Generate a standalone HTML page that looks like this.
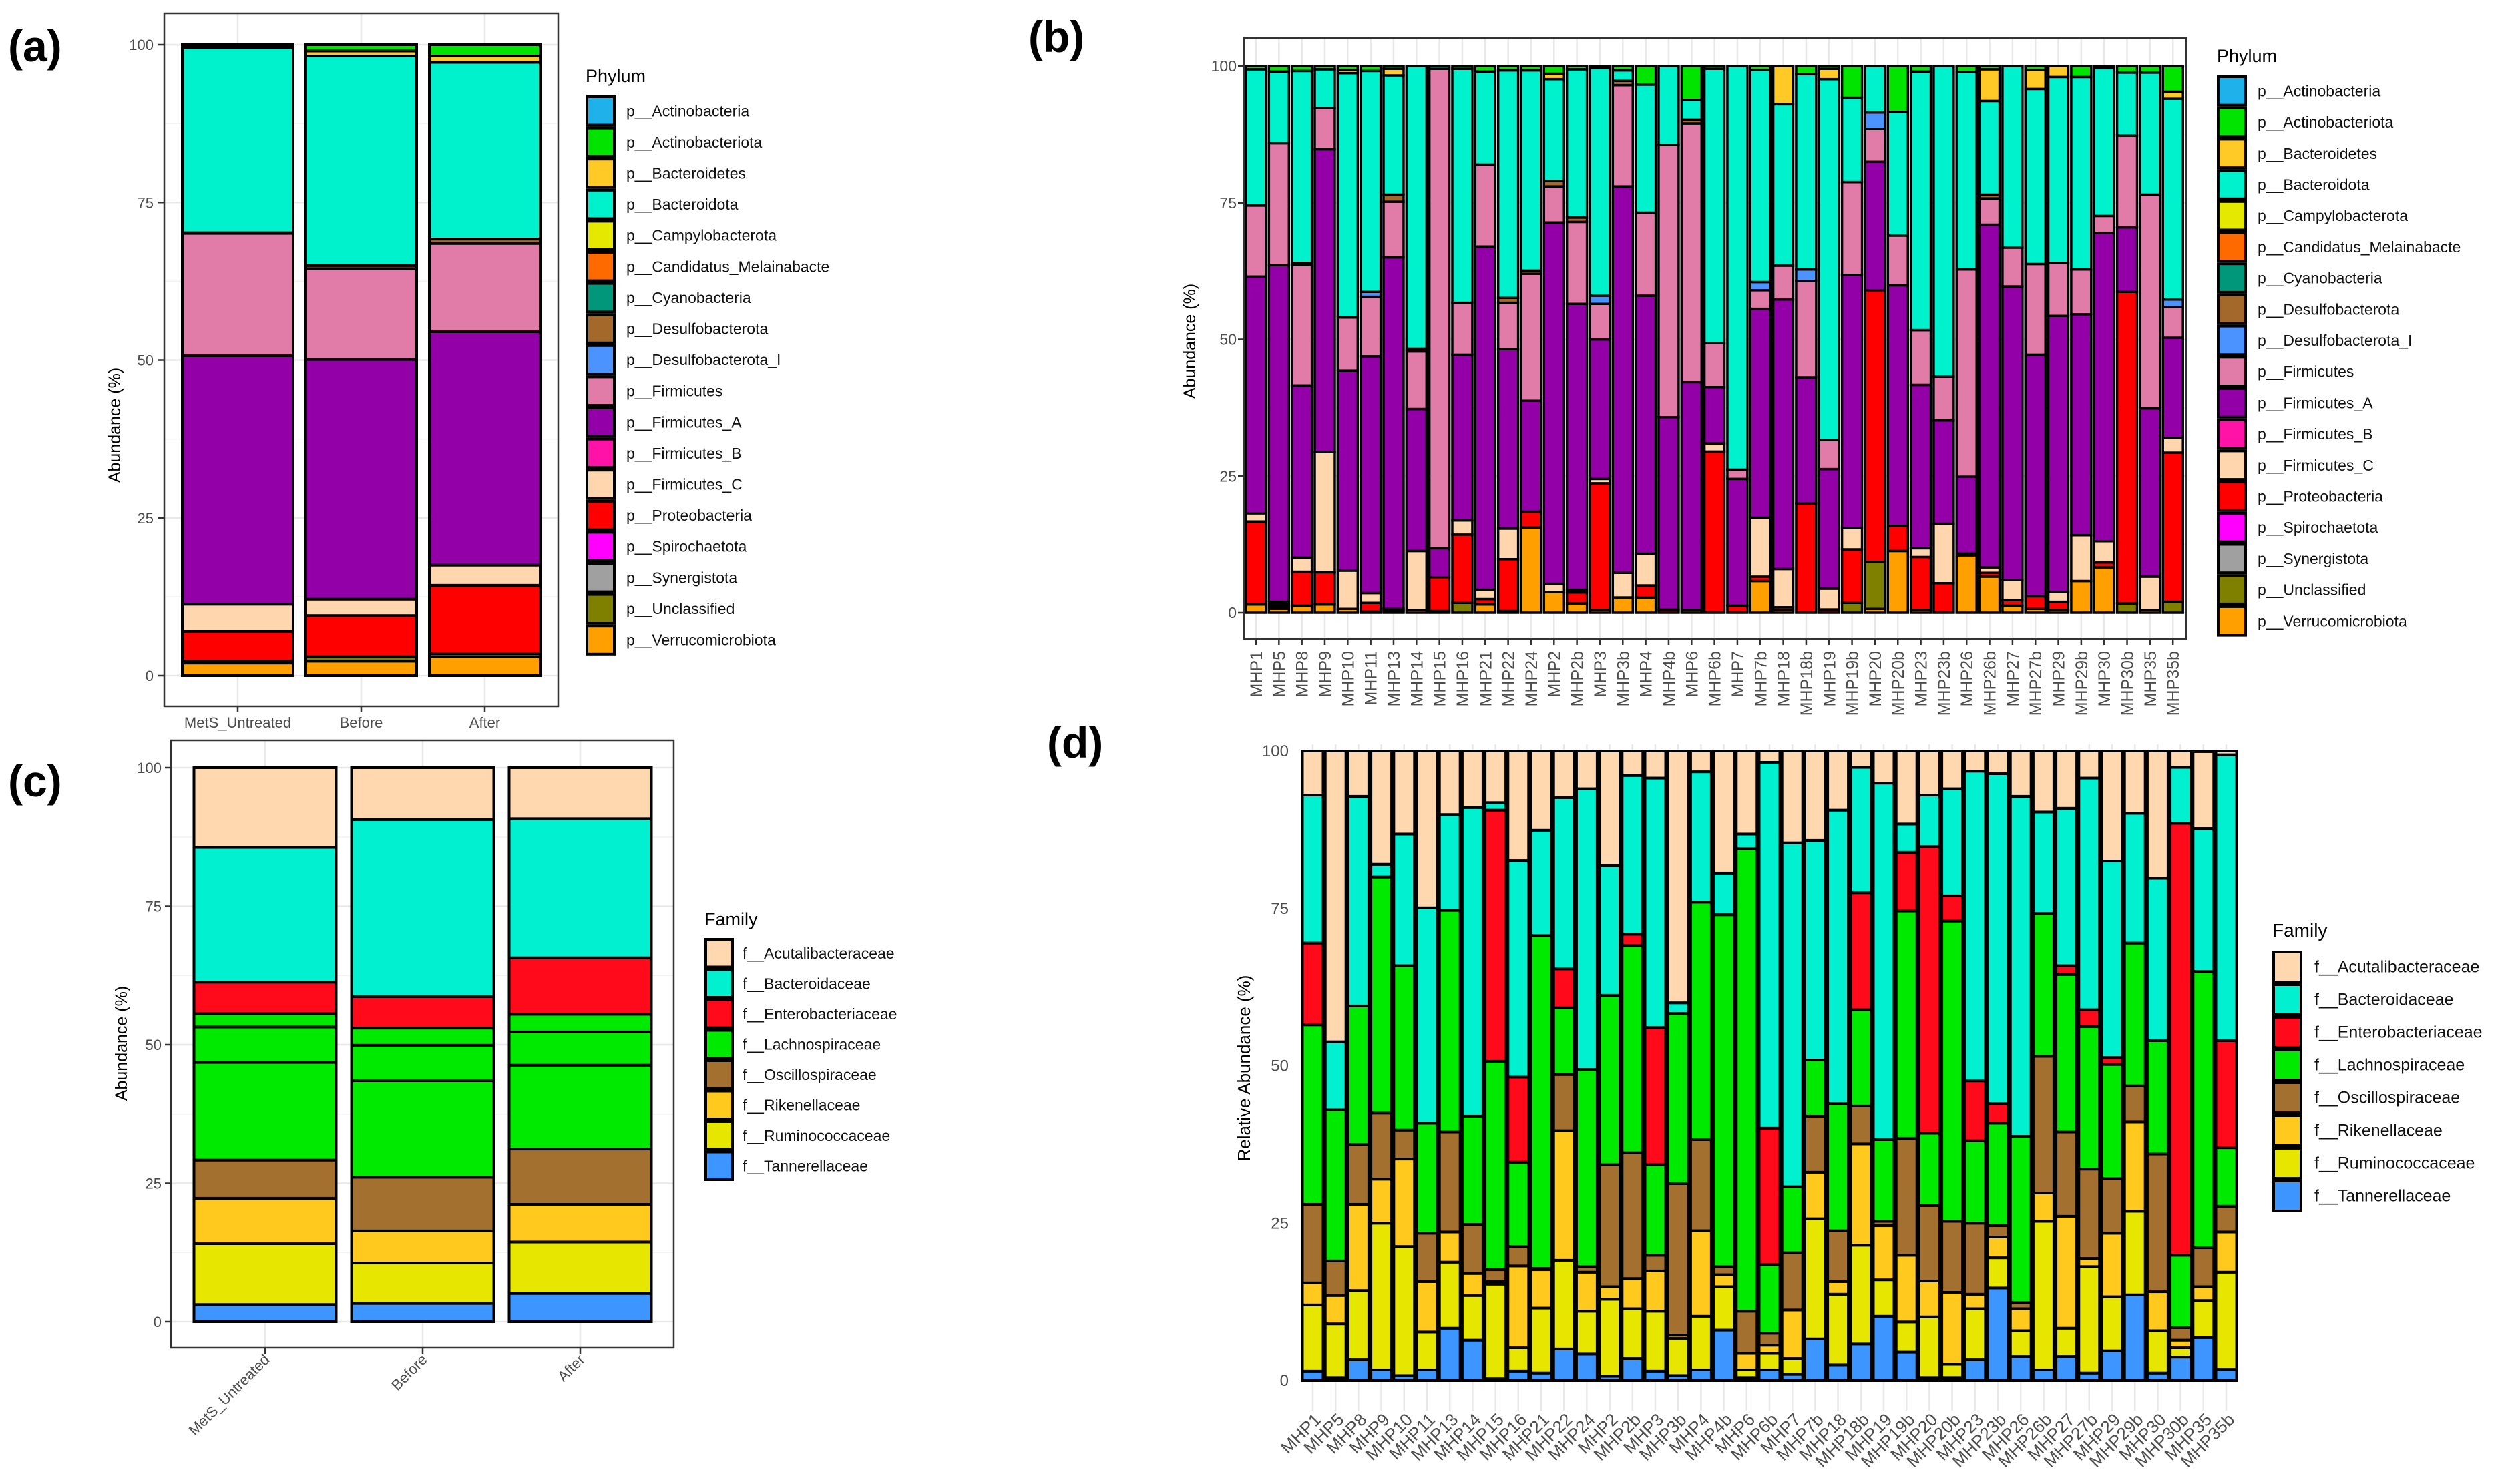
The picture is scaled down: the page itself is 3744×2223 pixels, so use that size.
<!DOCTYPE html>
<html><head><meta charset="utf-8"><style>
html,body{margin:0;padding:0;background:#fff;}
svg{display:block;font-family:"Liberation Sans",Arial,sans-serif;}
</style></head><body>
<svg id="fig" width="3744" height="2223" viewBox="0 0 3744 2223" xmlns="http://www.w3.org/2000/svg">
<rect x="0" y="0" width="3744" height="2223" fill="#fff"/>
</svg>
<script>
// ---------- Panel (a) data: phylum mean abundance by group ----------
const aGroups = ["MetS_Untreated","Before","After"];
const aVerrucomicrobiota = [2.0, 2.3, 3.0];
const aUnclassified = [0.3, 0.7, 0.5];
const aProteobacteria = [4.7, 6.5, 10.8];
const aFirmicutesC = [4.3, 2.6, 3.2];
const aFirmicutesA = [39.4, 38.0, 37.0];
const aFirmicutes = [19.4, 14.4, 14.0];
const aDesulfobacterota = [0.1, 0.5, 0.7];
const aBacteroidota = [29.3, 33.2, 28.0];
const aBacteroidetes = [0.2, 0.8, 1.0];
const aActinobacteriota = [0.3, 1.0, 1.8];

// ---------- Panel (b) data: phylum abundance by sample ----------
const samples = ["MHP1","MHP5","MHP8","MHP9","MHP10","MHP11","MHP13","MHP14","MHP15","MHP16","MHP21","MHP22","MHP24","MHP2","MHP2b","MHP3","MHP3b","MHP4","MHP4b","MHP6","MHP6b","MHP7","MHP7b","MHP18","MHP18b","MHP19","MHP19b","MHP20","MHP20b","MHP23","MHP23b","MHP26","MHP26b","MHP27","MHP27b","MHP29","MHP29b","MHP30","MHP30b","MHP35","MHP35b"];
const bVerrucomicrobiota = [1.5,0.7,1.3,1.5,0.7,0.2,0.3,0.5,0.3,0,1.5,0.3,15.6,3.8,1.7,0.5,2.8,2.8,0,0,0,0,5.8,0.5,0,0,0,0.7,11.3,0.5,0,10.5,6.6,1.3,0.7,0.5,5.8,8.3,0,0.5,0];
const bUnclassified = [0,0.4,0,0,0,0,0,0,0,1.8,0,0,0,0,0,0,0,0,0,0.5,0,0,0,0,0,0,1.8,8.6,0,0,0,0,0,0,0,0,0,0,1.7,0,2];
const bProteobacteria = [15.2,0.4,6.2,5.9,0,1.6,0.4,0,6.2,12.5,1,9.5,2.9,0,2,23.2,0,2.2,0.6,0,29.5,1.3,0.8,0.5,20,0.6,9.8,49.7,4.6,9.7,5.4,0,0.7,1,2.3,1.5,0,0.9,57,0,27.3];
const bFirmicutesC = [1.5,0.5,2.6,22,7,1.8,0,10.8,0,2.6,1.7,5.6,0,1.5,0.5,0.8,4.5,5.8,0,0,1.5,0,10.8,7,0,3.8,3.9,0,0,1.6,10.9,0.4,1,3.7,0,1.8,8.4,3.9,0,6.1,2.7];
const bFirmicutesA = [43.3,61.6,31.5,55.4,36.6,43.3,64.3,26,5.3,30.3,62.8,32.8,20.3,66.1,52.3,25.5,70.7,47.2,35.2,41.7,10.3,23.2,38.2,49.3,23.1,21.9,46.3,23.5,44,29.9,18.9,14,62.7,53.7,44.2,50.5,40.4,56.4,11.8,30.8,18.3];
const bFirmicutes = [13,22.3,22,7.5,9.7,10.9,10.2,10.5,87.7,9.5,15,8.5,23.2,6.6,15,6.5,18.5,15.2,49.8,47.3,8,1.7,3.4,6.2,17.6,5.3,17,6,9.1,10,8,37.9,4.8,7.1,16.6,9.7,8.2,3.1,16.8,39.1,5.6];
const bDesulfobacterota = [0,0,0.4,0,0,0,1.3,0.5,0,0,0,0.9,0.6,1,0.8,0,0.8,0,0,0.7,0,0,0,0,0,0,0,0,0,0,0,0,0.7,0,0,0,0,0,0,0,0];
const bDesulfobacterotaI = [0,0,0,0,0,0.9,0,0,0,0,0,0,0,0,0,1.5,0,0,0,0,0,0,1.5,0,2.1,0,0,3,0,0,0,0,0,0,0,0,0,0,0,0,1.4];
const bBacteroidota = [24.9,13.1,35.1,7.1,44.7,40.4,21.8,51.7,0.5,42.8,17,41.6,36.6,18.6,27.1,41.6,1.9,23.4,14.4,3.6,50.2,73.8,38.8,29.5,35.7,66,15.4,8.5,22.6,47.3,56.8,36.1,17.1,33.2,32,34,35.2,27,11.5,22.3,36.7];
const bBacteroidetes = [0,0,0,0,0.6,0,1.2,0,0,0,0,0,0,1,0,0,0,0,0,0,0,0,0,7,0,1.9,0,0,0,0,0,0,5.8,0,3.5,2,0,0,0,0,1.3];
const bActinobacteriota = [0.6,1,0.9,0.6,0.7,0.9,0.5,0,0,0.5,1,0.8,0.8,1.4,0.6,0.4,0.8,3.4,0,6.2,0.5,0,0.7,0,1.5,0.5,5.8,0,8.4,1,0,1.1,0.6,0,0.7,0,2,0.4,1.2,1.2,4.7];

// ---------- Panel (c) data: family mean abundance by group ----------
const cTannerellaceae = [3.1, 3.3, 5.1];
const cRuminococcaceae = [11.0, 7.3, 9.3];
const cRikenellaceae = [8.2, 5.8, 6.8];
const cOscillospiraceae = [6.9, 9.7, 10.0];
const cLachnoGenus1 = [17.6, 17.4, 15.1];
const cLachnoGenus2 = [6.4, 6.4, 6.0];
const cLachnoGenus3 = [2.4, 3.1, 3.2];
const cEnterobacteriaceae = [5.7, 5.7, 10.2];
const cBacteroidaceae = [24.3, 31.9, 25.1];
const cAcutalibacteraceae = [14.4, 9.4, 9.2];

// ---------- Panel (d) data: family relative abundance by sample ----------
const dTannerellaceae = [1.5,0.5,3.3,1.7,0.8,1.7,8.3,6.4,0.3,1.5,1.2,5,4.2,0.7,3.5,1.5,0.8,1.7,8,0.5,1.7,1,6.6,2.5,5.8,10.2,4.5,0.5,0.5,3.3,14.7,3.8,1.7,3.8,1.2,4.7,13.6,1.2,3.7,6.8,1.8];
const dRuminococcaceae = [10.5,8.5,11,23.3,20.5,6,10.5,7.1,15,3.7,10.3,14.1,6.8,12.2,7.9,9.5,5.9,8.5,6.9,1.2,2.6,2.5,19.1,11.2,15.7,5.8,4.8,9.6,2.1,8.1,4.8,4.1,23.6,4.5,16.9,8.6,13.3,6.7,1.5,5.9,15.4];
const dRikenellaceae = [3.5,4.5,13.7,7,13.9,8,4.8,3.5,0.4,13,6.1,20.6,6.2,2,4.8,6.4,0.5,13.6,1.9,2.6,1.3,7.7,7.4,2,16.1,8.6,10.6,5.7,11.4,2.3,3.3,3.5,4.5,17.8,1.3,10.1,14.2,6.2,1.2,2.2,6.4];
const dOscillospiraceae = [12.5,5.5,9.5,10.5,4.6,7.7,15.9,7.8,1.9,3.1,0.2,8.9,0.9,19.4,20,2.5,24.1,14.5,1.3,6.7,1.9,9.1,8.9,8.1,6,0.7,18.6,12,11.3,11.3,1.8,1,21.7,13.4,14.2,8.7,5.7,21.9,2,6.2,4.1];
const dLachnospiraceae = [28.5,24,22,37.5,26.1,17.5,35.2,17.2,33.1,13.4,52.9,10.6,31.3,26.9,32.9,14.4,27,37.7,55.9,73.5,10.9,10.5,8.9,20.2,15.3,13,36.1,11.5,47.7,13.1,16.3,26.4,22.7,25,22.6,18.1,22.7,18,11.5,43.9,9.3];
const dEnterobacteriaceae = [13,0,0,0,0,0,0,0,39.9,13.5,0,6.2,0,0,1.8,21.8,0,0,0,0,21.7,0,0,0,18.6,0,9.3,45.5,4,9.5,3.1,0,0,1.4,2.7,1.1,0,0,68.6,0,17];
const dBacteroidaceae = [23.5,10.8,33.3,2,20.9,34.2,15.2,49,1.2,34.4,16.7,27.2,44.6,20.6,25.2,39.6,1.7,20.7,6.6,2.3,58.1,54.6,34.9,46.6,19.9,56.6,4.5,8.2,17,49.2,52.4,54,16.1,25,36.8,31.2,20.6,25.8,8.9,22.7,45.4];
const dAcutalibacteraceae = [7,46.2,7.2,18,13.2,24.9,10.1,9,8.2,17.4,12.6,7.4,6,18.2,3.9,4.3,40,3.3,19.4,13.2,1.8,14.6,14.2,9.4,2.6,5.1,11.6,7,6,3.2,3.6,7.2,9.7,9.1,4.3,17.5,9.9,20.2,2.6,12.2,0.6];

const yTicks = [0,25,50,75,100];
const phylumLegend = ["p__Actinobacteria","p__Actinobacteriota","p__Bacteroidetes","p__Bacteroidota","p__Campylobacterota","p__Candidatus_Melainabacte","p__Cyanobacteria","p__Desulfobacterota","p__Desulfobacterota_I","p__Firmicutes","p__Firmicutes_A","p__Firmicutes_B","p__Firmicutes_C","p__Proteobacteria","p__Spirochaetota","p__Synergistota","p__Unclassified","p__Verrucomicrobiota"];
const familyLegend = ["f__Acutalibacteraceae","f__Bacteroidaceae","f__Enterobacteriaceae","f__Lachnospiraceae","f__Oscillospiraceae","f__Rikenellaceae","f__Ruminococcaceae","f__Tannerellaceae"];

// ---------- styles (colors) ----------
const PC = {Actinobacteria:"#1fb2ea",Actinobacteriota:"#00e400",Bacteroidetes:"#ffc926",Bacteroidota:"#00f2cd",Campylobacterota:"#e5e800",Candidatus:"#ff6a00",Cyanobacteria:"#00977a",Desulfobacterota:"#a3692a",DesulfobacterotaI:"#4b93ff",Firmicutes:"#e17ba8",FirmicutesA:"#9400a8",FirmicutesB:"#ff12a6",FirmicutesC:"#ffd6ad",Proteobacteria:"#ff0000",Spirochaetota:"#ff00ff",Synergistota:"#a0a0a0",Unclassified:"#808000",Verrucomicrobiota:"#ffa000"};
const phylumLegendColors = [PC.Actinobacteria,PC.Actinobacteriota,PC.Bacteroidetes,PC.Bacteroidota,PC.Campylobacterota,PC.Candidatus,PC.Cyanobacteria,PC.Desulfobacterota,PC.DesulfobacterotaI,PC.Firmicutes,PC.FirmicutesA,PC.FirmicutesB,PC.FirmicutesC,PC.Proteobacteria,PC.Spirochaetota,PC.Synergistota,PC.Unclassified,PC.Verrucomicrobiota];
const FC = {Acut:"#ffd8b0",Bact:"#00f0d0",Entero:"#ff0a1a",Lachno:"#00ea00",Oscill:"#a3702f",Riken:"#ffc91d",Rumino:"#e6e600",Tann:"#3d95ff"};
const familyLegendColors = [FC.Acut,FC.Bact,FC.Entero,FC.Lachno,FC.Oscill,FC.Riken,FC.Rumino,FC.Tann];

const NS = "http://www.w3.org/2000/svg";
const svg = document.getElementById("fig");
function mk(tag, attrs, parent){
  const e = document.createElementNS(NS, tag);
  for (const k in attrs) e.setAttribute(k, attrs[k]);
  (parent||svg).appendChild(e);
  return e;
}
function txt(s, attrs, parent){ const e = mk("text", attrs, parent); e.textContent = s; return e; }

function drawPanel(p){
  const g = mk("g", {});
  
  
  const y = v => p.y0 - v * (p.y0 - p.y100) / 100;
  const xc = i => p.x0 + i * p.step;
  // frame / grid
  if (p.frame) {
    mk("rect", {x:p.frame[0], y:p.frame[1], width:p.frame[2]-p.frame[0], height:p.frame[3]-p.frame[1], fill:"#fff"}, g);
  }
  const gx0 = p.frame ? p.frame[0] : xc(0) - p.step/2 - 10;
  const gx1 = p.frame ? p.frame[2] : xc(p.cats.length-1) + p.step/2 + 10;
  if (p.hgrid) {
    for (let v = 12.5; v < 100; v += 25) mk("line", {x1:gx0, x2:gx1, y1:y(v), y2:y(v), stroke:"#f2f2f2", "stroke-width":1.5}, g);
    yTicks.forEach(v => mk("line", {x1:gx0, x2:gx1, y1:y(v), y2:y(v), stroke:"#e8e8e8", "stroke-width":2.5}, g));
  }
  const vTop = p.frame ? p.frame[1] : y(100) - 10;
  const vBot = p.frame ? p.frame[3] : p.vgridBottom;
  p.cats.forEach((c, i) => mk("line", {x1:xc(i), x2:xc(i), y1:vTop, y2:vBot, stroke:"#e8e8e8", "stroke-width":2.5}, g));
  if (p.frame) mk("rect", {x:p.frame[0], y:p.frame[1], width:p.frame[2]-p.frame[0], height:p.frame[3]-p.frame[1], fill:"none", stroke:"#333", "stroke-width":2.5}, g);
  // bars
  p.cats.forEach((c, i) => {
    let cum = 0;
    p.series.forEach(s => {
      const v = s.vals[i];
      if (v <= 0) return;
      const r = mk("rect", {x:xc(i)-p.bw/2, y:y(cum+v), width:p.bw, height:y(cum)-y(cum+v), fill:s.color, stroke:"#000", "stroke-width":p.sw}, g);
      
      
      cum += v;
    });
  });
  // y ticks
  yTicks.forEach(v => {
    if (p.frame) mk("line", {x1:p.frame[0]-9, x2:p.frame[0], y1:y(v), y2:y(v), stroke:"#333", "stroke-width":2.5}, g);
    const t = txt(String(v), {x:p.ytx, y:y(v)+8, "text-anchor":"end", "font-size":p.tickFs, fill:"#4d4d4d"}, g);
    
    
  });
  // x labels
  p.cats.forEach((c, i) => {
    if (p.frame) mk("line", {x1:xc(i), x2:xc(i), y1:p.frame[3], y2:p.frame[3]+9, stroke:"#333", "stroke-width":2.5}, g);
    let t;
    if (p.xrot === 0) t = txt(c, {x:xc(i), y:p.xly, "text-anchor":"middle", "font-size":p.tickFs, fill:"#4d4d4d"}, g);
    else {
      const ax = xc(i) + (p.xdx||0);
      t = txt(c, {x:ax, y:p.xly, "text-anchor":"end", "font-size":p.xFs||p.tickFs, fill:"#4d4d4d", transform:`rotate(${p.xrot} ${ax} ${p.xly})`}, g);
    }
    
    
  });
  // y title
  const yt = txt(p.ytitle, {x:p.ytX, y:p.ytY, "text-anchor":"middle", "font-size":p.ytFs, fill:"#000", transform:`rotate(-90 ${p.ytX} ${p.ytY})`}, g);
  
  
  // panel tag
  const pl = txt(p.tag, {x:p.tagX, y:p.tagY, "font-size":66, "font-weight":"bold", fill:"#000"}, g);
  
  
  // legend
  const L = p.legend;
  const lt = txt(L.title, {x:L.x, y:L.ty, "font-size":L.tfs, fill:"#000"}, g);
  
  
  L.labels.forEach((lab, k) => {
    const top = L.top + k * L.step;
    const kr = mk("rect", {x:L.x+2, y:top+2, width:L.w-4, height:L.step-4, fill:L.colors[k], stroke:"#000", "stroke-width":4}, g);
    
    
    const lx = txt(lab, {x:L.lx, y:top + L.step/2 + 8, "font-size":L.fs, fill:"#111"}, g);
    
    
  });
}

// Panel a
drawPanel({name:"panel-a-phylum-groups", tag:"(a)", tagX:12, tagY:92, cats:aGroups, x0:356, step:185, bw:166, sw:4,
  y0:1012, y100:67, frame:[246,20,836,1058], hgrid:true, ytx:230, tickFs:22, xrot:0, xly:1090,
  ytitle:"Abundance (%)", ytX:180, ytY:637, ytFs:25,
  series:[
    {key:"verrucomicrobiota", color:PC.Verrucomicrobiota, vals:aVerrucomicrobiota},
    {key:"unclassified", color:PC.Unclassified, vals:aUnclassified},
    {key:"proteobacteria", color:PC.Proteobacteria, vals:aProteobacteria},
    {key:"firmicutes-c", color:PC.FirmicutesC, vals:aFirmicutesC},
    {key:"firmicutes-a", color:PC.FirmicutesA, vals:aFirmicutesA},
    {key:"firmicutes", color:PC.Firmicutes, vals:aFirmicutes},
    {key:"desulfobacterota", color:PC.Desulfobacterota, vals:aDesulfobacterota},
    {key:"bacteroidota", color:PC.Bacteroidota, vals:aBacteroidota},
    {key:"bacteroidetes", color:PC.Bacteroidetes, vals:aBacteroidetes},
    {key:"actinobacteriota", color:PC.Actinobacteriota, vals:aActinobacteriota}],
  legend:{title:"Phylum", x:877, ty:123, tfs:27, top:143, step:46.6, w:45, lx:938, fs:23, labels:phylumLegend, colors:phylumLegendColors}});

// Panel b
drawPanel({name:"panel-b-phylum-samples", tag:"(b)", tagX:1540, tagY:78, cats:samples, x0:1881, step:34.33, bw:30, sw:3.5,
  y0:918, y100:99, frame:[1863,57,3274,957], hgrid:true, ytx:1852, tickFs:23, xrot:-90, xly:975, xdx:9, xFs:25,
  ytitle:"Abundance (%)", ytX:1790, ytY:511, ytFs:25,
  series:[
    {key:"verrucomicrobiota", color:PC.Verrucomicrobiota, vals:bVerrucomicrobiota},
    {key:"unclassified", color:PC.Unclassified, vals:bUnclassified},
    {key:"proteobacteria", color:PC.Proteobacteria, vals:bProteobacteria},
    {key:"firmicutes-c", color:PC.FirmicutesC, vals:bFirmicutesC},
    {key:"firmicutes-a", color:PC.FirmicutesA, vals:bFirmicutesA},
    {key:"firmicutes", color:PC.Firmicutes, vals:bFirmicutes},
    {key:"desulfobacterota", color:PC.Desulfobacterota, vals:bDesulfobacterota},
    {key:"desulfobacterota-i", color:PC.DesulfobacterotaI, vals:bDesulfobacterotaI},
    {key:"bacteroidota", color:PC.Bacteroidota, vals:bBacteroidota},
    {key:"bacteroidetes", color:PC.Bacteroidetes, vals:bBacteroidetes},
    {key:"actinobacteriota", color:PC.Actinobacteriota, vals:bActinobacteriota}],
  legend:{title:"Phylum", x:3320, ty:93, tfs:27, top:113, step:46.7, w:45, lx:3381, fs:23, labels:phylumLegend, colors:phylumLegendColors}});

// Panel c
drawPanel({name:"panel-c-family-groups", tag:"(c)", tagX:12, tagY:1193, cats:aGroups, x0:397, step:236, bw:213, sw:4,
  y0:1980, y100:1150, frame:[256,1109,1009,2019], hgrid:true, ytx:242, tickFs:22, xrot:-45, xly:2038, xdx:8,
  ytitle:"Abundance (%)", ytX:190, ytY:1563, ytFs:25,
  series:[
    {key:"tannerellaceae", color:FC.Tann, vals:cTannerellaceae},
    {key:"ruminococcaceae", color:FC.Rumino, vals:cRuminococcaceae},
    {key:"rikenellaceae", color:FC.Riken, vals:cRikenellaceae},
    {key:"oscillospiraceae", color:FC.Oscill, vals:cOscillospiraceae},
    {key:"lachnospiraceae-1", color:FC.Lachno, vals:cLachnoGenus1},
    {key:"lachnospiraceae-2", color:FC.Lachno, vals:cLachnoGenus2},
    {key:"lachnospiraceae-3", color:FC.Lachno, vals:cLachnoGenus3},
    {key:"enterobacteriaceae", color:FC.Entero, vals:cEnterobacteriaceae},
    {key:"bacteroidaceae", color:FC.Bact, vals:cBacteroidaceae},
    {key:"acutalibacteraceae", color:FC.Acut, vals:cAcutalibacteraceae}],
  legend:{title:"Family", x:1055, ty:1386, tfs:27, top:1405, step:45.5, w:44, lx:1112, fs:23, labels:familyLegend, colors:familyLegendColors}});

// Panel d
drawPanel({name:"panel-d-family-samples", tag:"(d)", tagX:1568, tagY:1135, cats:samples, x0:1966, step:34.2, bw:31, sw:4,
  y0:2068, y100:1125, frame:null, vgridBottom:2113, hgrid:false, ytx:1930, tickFs:24, xrot:-45, xly:2128, xdx:14, xFs:26,
  ytitle:"Relative Abundance (%)", ytX:1872, ytY:1600, ytFs:26,
  series:[
    {key:"tannerellaceae", color:FC.Tann, vals:dTannerellaceae},
    {key:"ruminococcaceae", color:FC.Rumino, vals:dRuminococcaceae},
    {key:"rikenellaceae", color:FC.Riken, vals:dRikenellaceae},
    {key:"oscillospiraceae", color:FC.Oscill, vals:dOscillospiraceae},
    {key:"lachnospiraceae", color:FC.Lachno, vals:dLachnospiraceae},
    {key:"enterobacteriaceae", color:FC.Entero, vals:dEnterobacteriaceae},
    {key:"bacteroidaceae", color:FC.Bact, vals:dBacteroidaceae},
    {key:"acutalibacteraceae", color:FC.Acut, vals:dAcutalibacteraceae}],
  legend:{title:"Family", x:3403, ty:1403, tfs:28, top:1424, step:49, w:45, lx:3466, fs:25, labels:familyLegend, colors:familyLegendColors}});
</script>
</body></html>
